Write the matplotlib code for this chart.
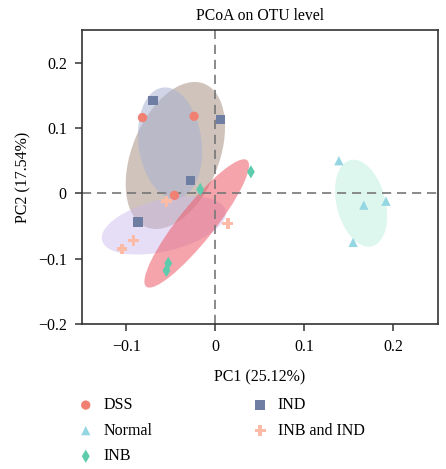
import numpy as np
import matplotlib
matplotlib.use("Agg")
import matplotlib.pyplot as plt
from matplotlib.patches import Ellipse
from matplotlib.transforms import Affine2D

plt.rcParams['font.family'] = ['Liberation Serif', 'DejaVu Serif']
plt.rcParams['axes.unicode_minus'] = True

# sample scores on PC1 / PC2
groups = ["DSS", "Normal", "INB", "IND", "INB and IND"]
dss_x = [-0.082, -0.024, -0.046]
dss_y = [0.116, 0.118, -0.003]
normal_x = [0.139, 0.167, 0.192, 0.155]
normal_y = [0.050, -0.018, -0.012, -0.075]
inb_x = [-0.017, 0.040, -0.053, -0.055]
inb_y = [0.006, 0.033, -0.107, -0.118]
ind_x = [-0.070, 0.006, -0.028, -0.087]
ind_y = [0.142, 0.113, 0.020, -0.044]
inbind_x = [-0.055, 0.014, -0.092, -0.105]
inbind_y = [-0.012, -0.046, -0.072, -0.085]

# group ellipses: centre, width / height (in PC1 units), angle (deg)
ell_cx = [-0.045, -0.051, -0.058, -0.021, 0.164]
ell_cy = [0.058, 0.077, -0.049, -0.046, -0.015]
ell_w = [0.174, 0.126, 0.143, 0.182, 0.100]
ell_h = [0.098, 0.071, 0.058, 0.040, 0.055]
ell_ang = [68, 97.5, 13.6, 51.4, 104.2]
ell_col = ["#a08878", "#a9b2d2", "#c9b6ec", "#ee5a66", "#b4eedc"]
ell_alpha = [0.5, 0.55, 0.45, 0.55, 0.45]

point_x = [dss_x, normal_x, inb_x, ind_x, inbind_x]
point_y = [dss_y, normal_y, inb_y, ind_y, inbind_y]
markers = ["o", "^", "d", "s", "P"]
colors = ["#f08072", "#94d6e2", "#5ecbac", "#6e7ea3", "#fbbba6"]

fig = plt.figure(figsize=(4.46, 4.69), dpi=100)
ax = fig.add_axes([0.184, 0.309, 0.797, 0.627])
ax.set_xlim(-0.15, 0.25)
ax.set_ylim(-0.2, 0.25)

# ellipses drawn in a frame where x and y have the same pixel scale
w_px = fig.get_figwidth() * fig.dpi * 0.797
h_px = fig.get_figheight() * fig.dpi * 0.627
ratio = (h_px / 0.45) / (w_px / 0.40)
tr = Affine2D().scale(1, 1 / ratio) + ax.transData
for i in range(len(ell_cx)):
    e = Ellipse((ell_cx[i], ell_cy[i] * ratio), ell_w[i], ell_h[i],
                angle=ell_ang[i], transform=tr, facecolor=ell_col[i],
                alpha=ell_alpha[i], edgecolor="none", zorder=1)
    ax.add_patch(e)

ax.axhline(0, color="#777777", ls=(0, (5.5, 3.5)), lw=1.2, zorder=2)
ax.axvline(0, color="#777777", ls=(0, (5.5, 3.5)), lw=1.2, zorder=2)

for i, g in enumerate(groups):
    ms = 45 if markers[i] != "P" else 60
    ax.scatter(point_x[i], point_y[i], marker=markers[i], s=ms,
               color=colors[i], edgecolors="none", zorder=3, label=g)

ax.set_xticks([-0.1, 0, 0.1, 0.2])
ax.set_xticklabels(["\u22120.1", "0", "0.1", "0.2"])
ax.set_yticks([-0.2, -0.1, 0, 0.1, 0.2])
ax.set_yticklabels(["\u22120.2", "\u22120.1", "0", "0.1", "0.2"])
ax.tick_params(labelsize=11.5, length=5, width=1.1, color="#333333", pad=6)
for s in ax.spines.values():
    s.set_linewidth(1.2)
    s.set_color("#333333")

ax.set_title("PCoA on OTU level", fontsize=11.3, pad=7)
ax.set_xlabel("PC1 (25.12%)", fontsize=11.5, labelpad=10)
ax.set_ylabel("PC2 (17.54%)", fontsize=11.5, labelpad=5)

ax.legend(loc="upper left", bbox_to_anchor=(-0.075, -0.2), ncol=2,
          frameon=False, fontsize=11.5, columnspacing=5.75, handletextpad=0.1,
          labelspacing=0.6, scatterpoints=1)

fig.savefig("out.png", dpi=100)
